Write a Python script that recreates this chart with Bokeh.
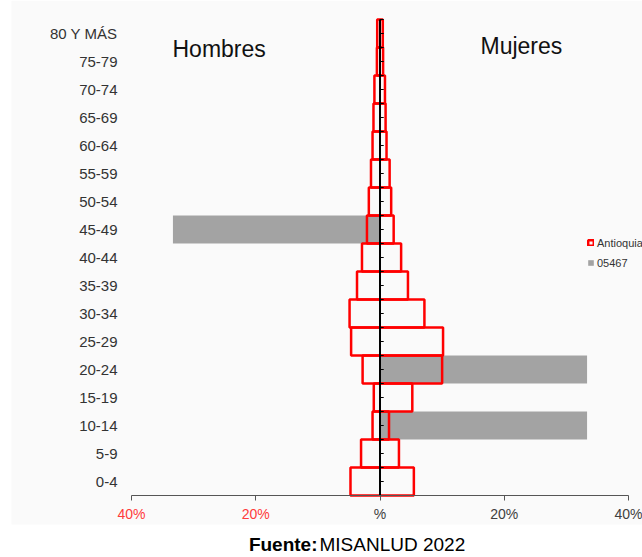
from bokeh.plotting import figure
from bokeh.models import (Range1d, FixedTicker, Label, Legend, LegendItem, LinearAxis,
                          BoxAnnotation)
from bokeh.embed import file_html
from bokeh.resources import INLINE

# ---- data ----
ages = ["0-4", "5-9", "10-14", "15-19", "20-24", "25-29", "30-34", "35-39",
        "40-44", "45-49", "50-54", "55-59", "60-64", "65-69", "70-74",
        "75-79", "80 Y MÁS"]
antioquia_hombres = [4.75, 3.05, 1.2, 1.0, 2.8, 4.65, 4.9, 3.7, 2.9, 2.1,
                     1.8, 1.45, 1.2, 1.05, 0.9, 0.5, 0.45]
antioquia_mujeres = [5.45, 3.05, 1.45, 5.2, 10.0, 10.15, 7.15, 4.5, 3.4, 2.2,
                     1.8, 1.55, 1.05, 0.9, 0.8, 0.5, 0.45]
mun_hombres = [0, 0, 0, 0, 0, 0, 0, 0, 0, 33.33, 0, 0, 0, 0, 0, 0, 0]
mun_mujeres = [0, 0, 33.33, 0, 33.33, 0, 0, 0, 0, 0, 0, 0, 0, 0, 0, 0, 0]
x_ticks_left = [-40, -20]
x_labels_left = ["40%", "20%"]
x_ticks_right = [0, 20, 40]
x_labels_right = ["%", "20%", "40%"]
series_names = ["Antioquia", "05467"]

FONT = "Liberation Sans"
idx = list(range(len(ages)))
n = len(ages)

# ---- geometry (pixels) ----
W, H = 642, 557
X_LEFT_PX, X_RIGHT_PX = 131, 628     # pixel position of -40% and +40%
ROW_PX = 28                           # height of one age band
BOTTOM_PX = 495                       # pixel (from top) of the lower edge of band 0
px_per_unit = (X_RIGHT_PX - X_LEFT_PX) / 80.0
x_start = -40 - X_LEFT_PX / px_per_unit
x_end = 40 + (W - X_RIGHT_PX) / px_per_unit
y_start = -0.5 - (H - BOTTOM_PX) / ROW_PX
y_end = y_start + H / ROW_PX

p = figure(width=W, height=H, output_backend="svg", toolbar_location=None,
           x_range=Range1d(x_start, x_end), y_range=Range1d(y_start, y_end),
           min_border=0, x_axis_location=None, y_axis_location=None)
p.background_fill_color = "white"
p.border_fill_color = "white"
p.outline_line_color = None
p.grid.visible = False

# light panel behind the chart (the original image area)
p.add_layout(BoxAnnotation(left=11, right=W, bottom=H - 524, top=H,
                           left_units="screen", right_units="screen",
                           bottom_units="screen", top_units="screen",
                           fill_color="#fafafa", fill_alpha=1, line_color=None,
                           level="underlay"))

# municipality bars (gray)
gray = p.hbar(y=idx, left=[-v for v in mun_hombres], right=mun_mujeres, height=1,
              fill_color="#a3a3a3", line_color=None)
# Antioquia outlines (red)
red = p.quad(left=[-v for v in antioquia_hombres], right=antioquia_mujeres,
             bottom=[i - 0.5 for i in idx], top=[i + 0.5 for i in idx],
             fill_color=None, line_color="#ff0000", line_width=2.5)

# center line with small tick marks
p.segment(x0=[0], x1=[0], y0=[-0.5], y1=[n - 0.5], line_color="black", line_width=2)
marks = [k * 0.5 - 0.5 for k in range(2 * n + 1)]
p.segment(x0=[0] * len(marks), x1=[0.6] * len(marks), y0=marks, y1=marks,
          line_color="black", line_width=1)

# x axes (fixed at the bottom edge of the bands)
xa = LinearAxis(fixed_location=-0.5, bounds=(-40, 40))
xa.ticker = FixedTicker(ticks=x_ticks_right)
xa.major_label_overrides = dict(zip(x_ticks_right, x_labels_right))
xa.axis_line_color = "#555555"
xa.major_tick_line_color = "#555555"
xa.major_tick_out = 5
xa.major_tick_in = 0
xa.minor_tick_line_color = None
xa.major_label_standoff = 5
xa.major_label_text_font = FONT
xa.major_label_text_font_size = "14px"
xa.major_label_text_color = "#404040"
p.add_layout(xa, "below")

xb = LinearAxis(fixed_location=-0.5)
xb.ticker = FixedTicker(ticks=x_ticks_left)
xb.major_label_overrides = dict(zip(x_ticks_left, x_labels_left))
xb.axis_line_color = None
xb.major_tick_line_color = "#555555"
xb.major_tick_out = 5
xb.major_tick_in = 0
xb.minor_tick_line_color = None
xb.major_label_standoff = 5
xb.major_label_text_font = FONT
xb.major_label_text_font_size = "14px"
xb.major_label_text_color = "#ff3b3b"
p.add_layout(xb, "below")

# y axis with age groups
ya = LinearAxis(fixed_location=-40)
ya.ticker = FixedTicker(ticks=idx)
ya.major_label_overrides = dict(zip(idx, ages))
ya.axis_line_color = None
ya.major_tick_line_color = None
ya.minor_tick_line_color = None
ya.major_label_standoff = 8
ya.major_label_text_font = FONT
ya.major_label_text_font_size = "15px"
ya.major_label_text_color = "#333333"
p.add_layout(ya, "left")

# side titles
p.add_layout(Label(x=172, y=H - 48, x_units="screen", y_units="screen", text="Hombres",
                   text_align="left", text_baseline="middle", text_font=FONT,
                   text_font_size="23px", text_color="#111111"))
p.add_layout(Label(x=480, y=H - 45, x_units="screen", y_units="screen", text="Mujeres",
                   text_align="left", text_baseline="middle", text_font=FONT,
                   text_font_size="23px", text_color="#111111"))

# legend
legend = Legend(items=[LegendItem(label=series_names[0], renderers=[red]),
                       LegendItem(label=series_names[1], renderers=[gray])],
                location=(587, H - 269), orientation="vertical",
                background_fill_alpha=0, border_line_color=None,
                padding=0, margin=0, spacing=7,
                glyph_width=7, glyph_height=7, label_height=13,
                label_standoff=3, label_text_font=FONT,
                label_text_font_size="11px", label_text_color="#333333")
p.add_layout(legend)

# source note
p.add_layout(Label(x=317, y=H - 544, x_units="screen", y_units="screen", text="Fuente:",
                   text_align="right", text_baseline="middle", text_font=FONT,
                   text_font_size="19px", text_font_style="bold", text_color="black"))
p.add_layout(Label(x=319, y=H - 544, x_units="screen", y_units="screen", text="MISANLUD 2022",
                   text_align="left", text_baseline="middle", text_font=FONT,
                   text_font_size="19px", text_color="black"))

open("out.html", "w").write(file_html(p, INLINE))
